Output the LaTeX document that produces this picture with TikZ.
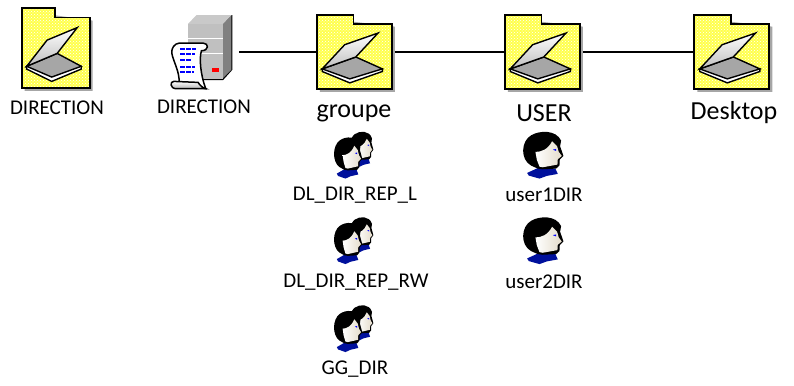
\documentclass[tikz,border=0pt]{standalone}
\usepackage{fontspec}
\setmainfont{Carlito}
\usetikzlibrary{patterns}

\definecolor{folderyellow}{HTML}{FFFF4D}
\definecolor{bodygray}{HTML}{C0C0C0}
\definecolor{iconblue}{HTML}{00109C}
\definecolor{skin}{HTML}{E4DCCB}

% one head, in a box of 120 x 140
\newcommand{\headicon}{
    \fill[iconblue] (13,125) -- (50,108) -- (98,112) -- (105,128) -- (72,134) -- (50,142) -- (18,133) -- cycle;
    \fill[black] (25,103) .. controls (-8,85) and (-6,30) .. (25,12) .. controls (50,-3) and (100,-5) .. (115,28)
        -- (112,45) -- (118,62) -- (122,74) -- (111,85) -- (110,103) -- (100,112) -- (60,114) -- (45,112) -- cycle;
    \fill[left color=white,right color=skin] (88,30) -- (103,45) -- (108,62) -- (117,74) -- (105,84) -- (104,100)
        -- (60,108) -- (50,106) -- (42,85) -- (38,62) .. controls (55,62) and (75,55) .. cycle;
    \fill[blue] (90,55) -- (100,53) -- (100,59) -- cycle;
}

\tikzset{
    folderbox/.style={minimum width=#1,minimum height=74pt,inner sep=0pt},
    serverbox/.style={minimum width=69pt,minimum height=74pt,inner sep=0pt},
    headbox/.style={minimum width=40pt,minimum height=47pt,inner sep=0pt},
    smalltext/.style={font=\fontsize{21}{23}\selectfont,inner sep=0pt},
    bigtext/.style={font=\fontsize{26}{28}\selectfont,inner sep=0pt},
    wire/.style={line width=1.3pt},
    folderpic/.pic={
        \fill[gray!70] (0.04,0.04) -- (1.04,0.16) -- (1.04,1.04) -- (0.04,1.04) -- cycle;
        \path[fill=folderyellow] (0,0) -- (0.49,0) -- (0.49,0.12) -- (1,0.12) -- (1,1) -- (0,1) -- cycle;
        \path[pattern=crosshatch dots,pattern color=white] (0,0) -- (0.49,0) -- (0.49,0.12) -- (1,0.12) -- (1,1) -- (0,1) -- cycle;
        \draw[line width=1.7pt] (0,0) -- (0.49,0) -- (0.49,0.12) -- (1,0.12) -- (1,1) -- (0,1) -- cycle;
        \draw[line width=1.4pt,fill=white] (0.072,0.731) -- (0.072,0.766) -- (0.44,0.92) -- (0.874,0.766) -- (0.874,0.731) -- cycle;
        \draw[line width=1.4pt,fill=gray!70] (0.072,0.731) -- (0.52,0.57) -- (0.874,0.731) -- (0.44,0.866) -- cycle;
        \draw[line width=1.4pt,bottom color=gray!50,top color=white] (0.816,0.247) -- (0.372,0.404) -- (0.072,0.731) -- (0.52,0.57) -- cycle;
    },
    serverpic/.pic={
        \fill[black] (160,27) -- (185,1) -- (188,1) -- (188,165) -- (160,196) -- (55,196) -- (55,193) -- cycle;
        \fill[gray] (160,27) -- (185,1) -- (185,165) -- (160,190) -- cycle;
        \fill[bodygray!85!white] (55,27) -- (80,1) -- (185,1) -- (160,27) -- cycle;
        \fill[bodygray] (55,27) rectangle (160,193);
        \draw[white,line width=.8pt] (55,70) -- (160,70) (55,117) -- (160,117);
        \fill[red] (126,159) rectangle (147,173);
        \draw[line width=1.5pt,fill=white] (28,85) -- (100,85) .. controls (118,85) and (118,108) .. (95,108)
            .. controls (88,130) and (92,180) .. (108,222) -- (28,205) .. controls (30,170) and (10,140) .. (6,115) .. controls (4,100) and (15,86) .. cycle;
        \draw[line width=1.5pt,top color=white,bottom color=gray!60] (12,200) -- (85,203) .. controls (90,212) and (100,220) .. (108,222) -- (20,222) .. controls (0,222) and (0,200) .. cycle;
        \foreach \ypos/\xend in {102/78,118/76,137/66,157/76,172/72}
            \draw[blue,line width=1.9pt,dash pattern=on 5pt off 1pt] (32,\ypos) -- (\xend,\ypos);
    },
    userpic/.pic={\headicon},
    grouppic/.pic={
        \begin{scope}[shift={(48,0)},xscale=.58,yscale=.75]\headicon\end{scope}
        \begin{scope}[shift={(0,17)},xscale=.7,yscale=.88]\headicon\end{scope}
    }
}

\begin{document}
\begin{tikzpicture}[x=1pt,y=-1pt]
    \useasboundingbox (0,0) rectangle (794,385);

    \node[folderbox=68pt,minimum height=80pt] (dirfolder) at (56,48) {};
    \node[serverbox] (server) at (204.5,52) {};
    \node[folderbox=75pt] (groupe) at (354.5,52) {};
    \node[folderbox=75pt] (user) at (542.5,52) {};
    \node[folderbox=75pt] (desktop) at (732,52) {};

    \draw[wire] (server) -- (groupe);
    \draw[wire] (groupe) -- (user);
    \draw[wire] (user) -- (desktop);

    \pic[x=68pt,y=-80pt] at (dirfolder.north west) {folderpic};
    \pic[x=.333pt,y=-.333pt] at (server.north west) {serverpic};
    \pic[x=75pt,y=-74pt] at (groupe.north west) {folderpic};
    \pic[x=75pt,y=-74pt] at (user.north west) {folderpic};
    \pic[x=75pt,y=-74pt] at (desktop.north west) {folderpic};

    \node[smalltext] (dirlabel) at (57,108) {DIRECTION};
    \node[smalltext] (serverlabel) at (204,107) {DIRECTION};
    \node[bigtext] (groupelabel) at (354,113) {groupe};
    \node[bigtext] (userlabel) at (544,113) {USER};
    \node[bigtext] (desktoplabel) at (734,113) {Desktop};

    \node[headbox] (dlread) at (354,155) {};
    \node[headbox] (dlwrite) at (354,240.5) {};
    \node[headbox] (ggdir) at (354,328.5) {};
    \node[headbox] (userone) at (543,155) {};
    \node[headbox] (usertwo) at (543,240.5) {};

    \pic[x=.333pt,y=-.333pt] at (dlread.north west) {grouppic};
    \pic[x=.333pt,y=-.333pt] at (dlwrite.north west) {grouppic};
    \pic[x=.333pt,y=-.333pt] at (ggdir.north west) {grouppic};
    \pic[x=.333pt,y=-.333pt] at (userone.north west) {userpic};
    \pic[x=.333pt,y=-.333pt] at (usertwo.north west) {userpic};

    \node[smalltext] (dlreadlabel) at (355,195) {DL\_DIR\_REP\_L};
    \node[smalltext] (dlwritelabel) at (356,282) {DL\_DIR\_REP\_RW};
    \node[smalltext] (ggdirlabel) at (355,369) {GG\_DIR};
    \node[smalltext] (useronelabel) at (544,195) {user1DIR};
    \node[smalltext] (usertwolabel) at (544,282) {user2DIR};
\end{tikzpicture}
\end{document}
